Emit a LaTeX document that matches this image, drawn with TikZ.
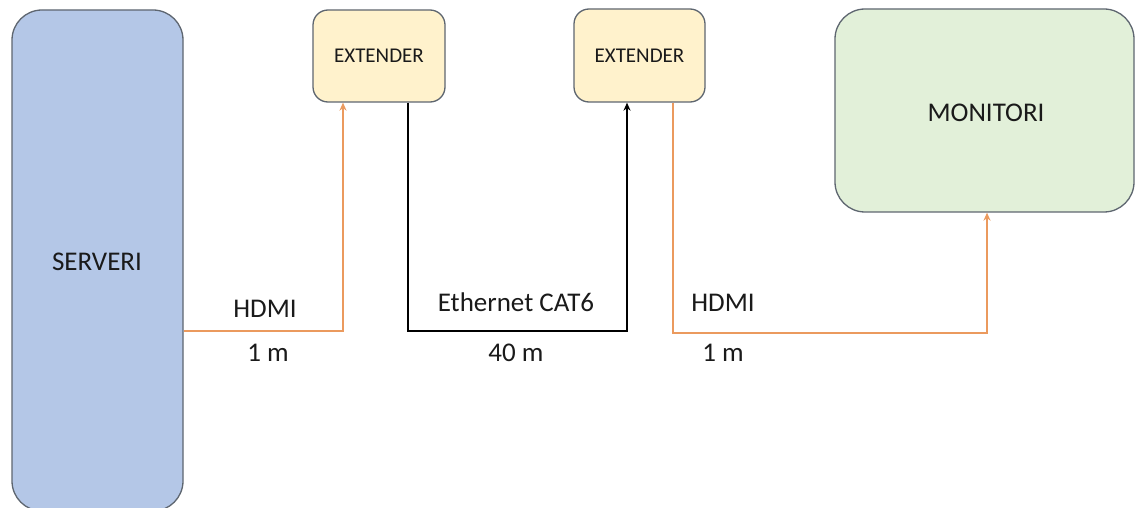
\documentclass[tikz,border=0pt]{standalone}
\usepackage{fontspec}
\setmainfont{Carlito}
\usetikzlibrary{arrows.meta}
\definecolor{srvfill}{HTML}{B4C7E7}
\definecolor{extfill}{HTML}{FFF2CC}
\definecolor{monfill}{HTML}{E2F0D9}
\definecolor{boxline}{HTML}{5E6670}
\definecolor{hdmicol}{HTML}{EB9A5E}
\definecolor{txt}{HTML}{1A1A1A}
\tikzset{
  box/.style={draw=boxline, line width=1.3pt, inner sep=0pt, text=txt},
  bigtext/.style={font=\fontsize{27}{32}\selectfont, text=txt, inner sep=0pt},
  smalltext/.style={font=\fontsize{21}{25}\selectfont},
  hdmi/.style={draw=hdmicol, line width=2pt, -{Stealth[length=8pt,width=7pt]}},
  eth/.style={draw=black, line width=2pt, -{Stealth[length=8pt,width=7pt]}},
}
\begin{document}
\begin{tikzpicture}[x=1pt,y=-1pt]
\useasboundingbox (0,0) rectangle (1136,508);
\clip (0,0) rectangle (1136,508);
\fill[white] (0,0) rectangle (1136,508);
% boxes
\node[box, fill=srvfill, rounded corners=30pt, minimum width=171pt, minimum height=501pt] (srv) at (97.5,260.5) {};
\node[box, fill=extfill, rounded corners=15pt, minimum width=132pt, minimum height=92pt, smalltext] (ext1) at (379,56) {EXTENDER};
\node[box, fill=extfill, rounded corners=15pt, minimum width=131pt, minimum height=93pt, smalltext] (ext2) at (639.5,55.5) {EXTENDER};
\node[box, fill=monfill, rounded corners=30pt, minimum width=299pt, minimum height=203pt] (mon) at (984.5,110.5) {};
% box texts
\node[bigtext] (srvtxt) at (97,262) {SERVERI};
\node[bigtext] (montxt) at (986,113) {MONITORI};
% helper coordinates
\coordinate (yA) at (0,331);
\coordinate (yB) at (0,333);
\coordinate (xA) at (343,0);
\coordinate (xB) at (408,0);
\coordinate (xC) at (627,0);
\coordinate (xD) at (673,0);
\coordinate (xE) at (987,0);
% connectors
\draw[hdmi] (srv.east |- yA) -| (ext1.south -| xA);
\draw[eth] (ext1.south -| xB) |- (xC |- yA) -- (ext2.south -| xC);
\draw[hdmi] (ext2.south -| xD) |- (xE |- yB) -- (mon.south -| xE);
% labels
\node[bigtext] (l1) at (265,309) {HDMI};
\node[bigtext] (l2) at (268,353) {1 m};
\node[bigtext] (l3) at (516,302) {Ethernet CAT6};
\node[bigtext] (l4) at (516,353) {40 m};
\node[bigtext] (l5) at (723,303) {HDMI};
\node[bigtext] (l6) at (723,353) {1 m};
\end{tikzpicture}
\end{document}
